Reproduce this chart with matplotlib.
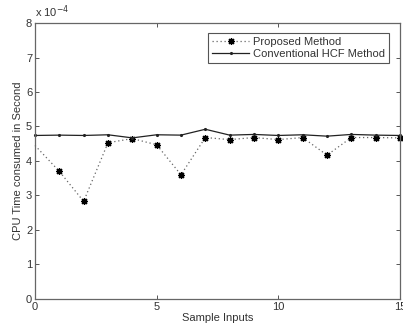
import numpy as np
import matplotlib
matplotlib.use("Agg")
import matplotlib.pyplot as plt

# CPU time (seconds) per sample input
samples = np.arange(0, 16)
proposed = np.array([4.45, 3.70, 2.83, 4.53, 4.65, 4.47, 3.60, 4.68, 4.62,
                     4.68, 4.62, 4.68, 4.17, 4.68, 4.68, 4.67]) * 1e-4
conventional = np.array([4.74, 4.75, 4.74, 4.76, 4.67, 4.76, 4.75, 4.92, 4.75,
                         4.77, 4.74, 4.76, 4.72, 4.77, 4.75, 4.74]) * 1e-4
scale = 1e4

plt.rcParams['font.family'] = ['Liberation Sans', 'DejaVu Sans']
plt.rcParams['font.size'] = 8

fig = plt.figure(figsize=(4.03, 3.31), dpi=100)
ax = fig.add_axes([0.0868, 0.0967, 0.9058, 0.8338])

ax.plot(samples, proposed * scale, color='#666666', linestyle=(0, (1, 2.2)),
        linewidth=0.9, marker=(8, 2, 0), markersize=5, markerfacecolor='black',
        markeredgecolor='black', markeredgewidth=0.9,
        markevery=list(range(1, 16)), label='Proposed Method', clip_on=False)
ax.plot(samples, conventional * scale, color='#222222', linestyle='-',
        linewidth=0.9, marker='.', markersize=2.5, label='Conventional HCF Method',
        clip_on=False)

ax.set_xlim(0, 15)
ax.set_ylim(0, 8)
ax.set_xticks([0, 5, 10, 15])
ax.set_yticks(range(0, 9))
ax.tick_params(direction='in', top=True, right=True, length=3, width=0.7,
               colors='#555555', labelcolor='#333333', labelsize=8, pad=2)
for s in ax.spines.values():
    s.set_color('#666666')
    s.set_linewidth(0.9)

ax.set_xlabel('Sample Inputs', color='#333333', labelpad=1)
ax.set_ylabel('CPU Time consumed in Second', color='#333333', labelpad=2)
ax.text(0.0, 1.012, r'x 10$^{-4}$', transform=ax.transAxes, fontsize=8,
        color='#333333', va='bottom', ha='left')

leg = ax.legend(loc='upper right', bbox_to_anchor=(0.98, 0.975), fancybox=False,
                framealpha=1, edgecolor='#555555', borderpad=0.35,
                handlelength=3.3, handletextpad=0.4, labelspacing=0.2,
                borderaxespad=0.3)
leg.get_frame().set_linewidth(0.8)
for t in leg.get_texts():
    t.set_color('#333333')

fig.savefig('out.png', dpi=100)
